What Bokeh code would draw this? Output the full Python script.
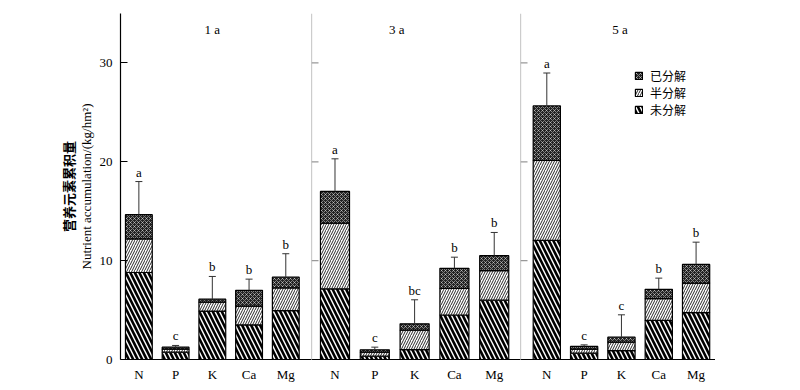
from bokeh.plotting import figure
from bokeh.models import (ColumnDataSource, Range1d, FixedTicker, LinearAxis, Legend,
                          LegendItem, Whisker, TeeHead, Label, LabelSet, Span)
from bokeh.layouts import row
from bokeh.embed import file_html
from bokeh.resources import INLINE

# ---------------- data ----------------
elements = ["N", "P", "K", "Ca", "Mg"]
periods = ["1 a", "3 a", "5 a"]
layer_names = ["未分解", "半分解", "已分解"]

undecomp_1a = [8.8, 0.74, 4.9, 3.5, 4.95]
halfdec_1a = [3.4, 0.30, 0.9, 1.9, 2.3]
decomp_1a = [2.45, 0.21, 0.3, 1.6, 1.08]
err_1a = [3.35, 0.17, 2.3, 1.13, 2.37]
letters_1a = ["a", "c", "b", "b", "b"]

undecomp_3a = [7.15, 0.34, 1.0, 4.5, 6.0]
halfdec_3a = [6.65, 0.40, 1.97, 2.7, 3.0]
decomp_3a = [3.2, 0.24, 0.64, 2.02, 1.5]
err_3a = [3.3, 0.27, 2.43, 1.13, 2.35]
letters_3a = ["a", "c", "bc", "b", "b"]

undecomp_5a = [12.05, 0.64, 0.9, 3.95, 4.75]
halfdec_5a = [8.1, 0.41, 0.85, 2.2, 2.98]
decomp_5a = [5.5, 0.27, 0.51, 0.95, 1.89]
err_5a = [3.33, 0.16, 2.26, 1.13, 2.25]
letters_5a = ["a", "c", "c", "b", "b"]

y_ticks = [0, 10, 20, 30]
y_label_cn = "营养元素累积量"
y_label_en = "Nutrient accumulation/(kg/hm²)"

# ---------------- layout / style ----------------
SERIF = "Liberation Serif"
CJK = "Noto Sans CJK SC"
H = 385
panel_frames = [191, 209, 195]
panel_xr = [(-0.5, 4.7), (-0.59, 4.66), (-0.705, 4.52)]
title_x = [2.0, 1.55, 1.96]
left_border = 120

series = [
    (undecomp_1a, halfdec_1a, decomp_1a, err_1a, letters_1a),
    (undecomp_3a, halfdec_3a, decomp_3a, err_3a, letters_3a),
    (undecomp_5a, halfdec_5a, decomp_5a, err_5a, letters_5a),
]

figs = []
last_renderers = None
for i, (un, hf, dn, er, lt) in enumerate(series):
    first = i == 0
    w = panel_frames[i] + (left_border if first else 0)
    p = figure(width=w, height=H, x_range=Range1d(*panel_xr[i]), y_range=Range1d(0, 35),
               output_backend="svg", toolbar_location=None,
               y_axis_location="left" if first else None,
               min_border_left=left_border if first else 0, min_border_right=0,
               min_border_top=13, min_border_bottom=26)
    p.outline_line_color = None
    p.grid.visible = False
    p.background_fill_color = "white"
    p.border_fill_color = "white"

    idx = list(range(len(elements)))
    total = [a + b + c for a, b, c in zip(un, hf, dn)]
    upper = [t + e for t, e in zip(total, er)]
    src = ColumnDataSource(dict(x=idx, un=un, half=hf, done=dn, total=total,
                                upper=upper, letter=lt))

    rs = p.vbar_stack(["un", "half", "done"], x="x", width=0.73, source=src,
                      fill_color=["white", "white", "#222222"],
                      line_color="black", line_width=1.2,
                      hatch_pattern=["\\", "/", "x"],
                      hatch_color=["black", "#111111", "white"],
                      hatch_scale=[9, 5, 4],
                      hatch_weight=[2.6, 0.9, 0.45])

    wk = Whisker(source=src, base="x", upper="upper", lower="total", dimension="height",
                 line_color="#333333", line_width=1,
                 upper_head=TeeHead(size=7, line_color="#333333", line_width=1),
                 lower_head=None, level="glyph")
    p.add_layout(wk)

    p.add_layout(LabelSet(x="x", y="upper", text="letter", source=src,
                          text_font=SERIF, text_font_size="13px", text_align="center",
                          text_baseline="alphabetic", y_offset=5, text_color="black"))

    p.add_layout(Label(x=title_x[i], y=33.4, text=periods[i], text_align="center",
                       text_baseline="middle", text_font=SERIF, text_font_size="13px",
                       text_color="black"))

    # x axis
    xa = p.xaxis[0]
    xa.ticker = FixedTicker(ticks=idx)
    xa.major_label_overrides = {k: elements[k] for k in idx}
    xa.major_tick_line_color = None
    xa.minor_tick_line_color = None
    xa.major_tick_in = 0
    xa.major_tick_out = 0
    xa.major_label_standoff = 7
    xa.axis_line_color = "black"
    xa.axis_line_width = 1.2
    xa.major_label_text_font = SERIF
    xa.major_label_text_font_size = "13px"
    xa.major_label_text_color = "black"

    if first:
        ya = p.yaxis[0]
        ya.ticker = FixedTicker(ticks=y_ticks)
        ya.minor_tick_line_color = None
        ya.major_tick_in = 7
        ya.major_tick_out = 0
        ya.axis_line_color = "black"
        ya.axis_line_width = 1.2
        ya.major_tick_line_color = "black"
        ya.major_label_standoff = 8
        ya.major_label_text_font = SERIF
        ya.major_label_text_font_size = "13px"
        ya.major_label_text_color = "black"
        ya.axis_label = y_label_en
        ya.axis_label_text_font = SERIF
        ya.axis_label_text_font_size = "13px"
        ya.axis_label_text_font_style = "normal"
        ya.axis_label_text_color = "black"
        ya.axis_label_standoff = 3
        ya2 = LinearAxis(axis_label=y_label_cn, axis_line_color=None,
                         major_tick_line_color=None, minor_tick_line_color=None,
                         major_label_text_font_size="0px", major_label_standoff=0,
                         major_tick_in=0, major_tick_out=0,
                         axis_label_text_font=CJK, axis_label_text_font_size="13px",
                         axis_label_text_font_style="bold", axis_label_text_color="black",
                         axis_label_standoff=-2, ticker=FixedTicker(ticks=[]))
        p.add_layout(ya2, "left")
    else:
        # grey panel separator with inward ticks
        x0 = panel_xr[i][0]
        p.add_layout(Span(location=x0, dimension="height", line_color="#999999",
                          line_width=1.2))
        p.ray(x=[x0] * len(y_ticks), y=y_ticks, length=7, length_units="screen",
              angle=0, line_color="#999999", line_width=1.2)
    figs.append(p)
    last_renderers = rs

p3 = figs[-1]
legend = Legend(items=[LegendItem(label=layer_names[2], renderers=[last_renderers[2]]),
                       LegendItem(label=layer_names[1], renderers=[last_renderers[1]]),
                       LegendItem(label=layer_names[0], renderers=[last_renderers[0]])],
                location=(114, 241), padding=0, margin=0, spacing=0,
                glyph_width=9, glyph_height=9, label_height=15, label_standoff=7,
                label_text_font=CJK, label_text_font_size="12px", label_text_color="black",
                border_line_color=None, background_fill_alpha=0)
p3.add_layout(legend)

layout = row(*figs, spacing=0)
open("out.html", "w").write(file_html(layout, INLINE))
